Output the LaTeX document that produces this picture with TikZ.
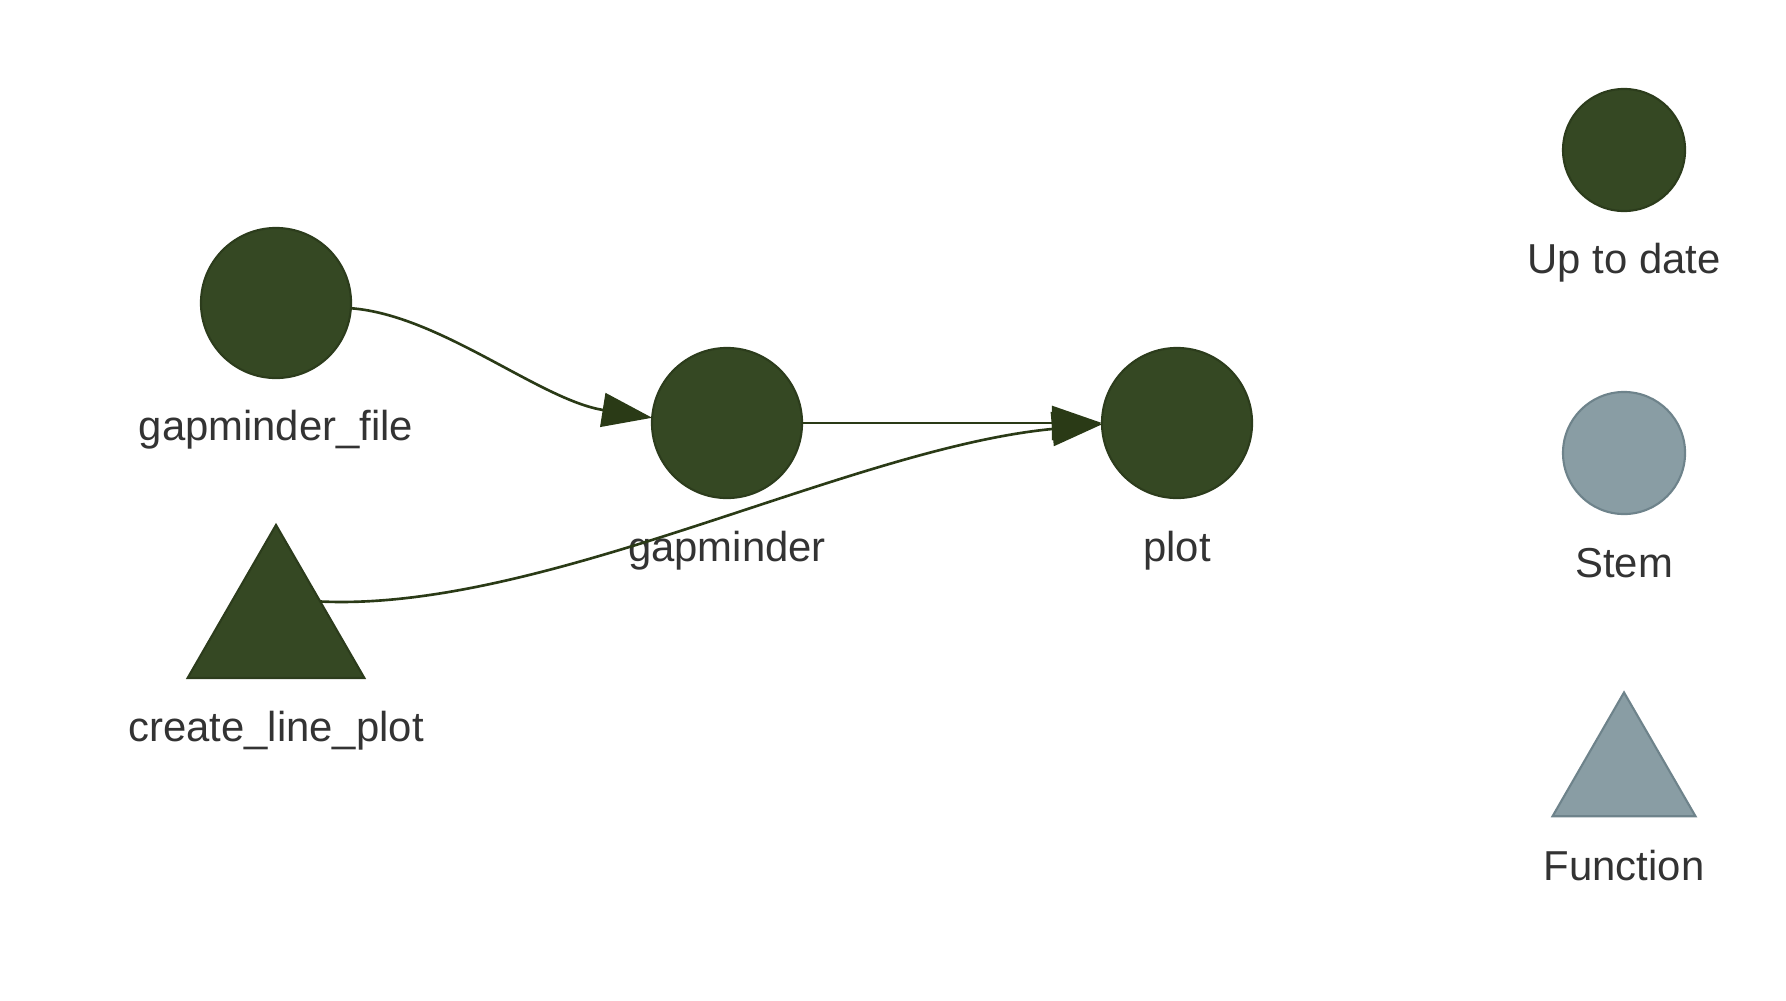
\documentclass[tikz,border=0pt]{standalone}
\usepackage{fontspec}
\setmainfont{Liberation Sans}
\usetikzlibrary{shapes.geometric,arrows.meta}
\definecolor{uptodate}{HTML}{354823}
\definecolor{uptodateline}{HTML}{2C3C1C}
\definecolor{stem}{HTML}{899DA4}
\definecolor{stemline}{HTML}{6E838B}
\definecolor{edgecol}{HTML}{2A3A16}
\definecolor{txt}{HTML}{333333}
\begin{document}
\begin{tikzpicture}[x=0.01cm,y=-0.01cm,
 target/.style={circle,fill=uptodate,draw=uptodateline,line width=0.6pt,minimum size=1.5cm,inner sep=0pt,outer sep=0pt},
 func/.style={regular polygon,regular polygon sides=3,fill=uptodate,draw=uptodateline,line width=0.6pt,minimum size=2.04cm,inner sep=0pt,outer sep=0pt},
 legcirc/.style={circle,draw=#1line,fill=#1,line width=0.6pt,minimum size=1.22cm,inner sep=0pt,outer sep=0pt},
 legtri/.style={regular polygon,regular polygon sides=3,fill=stem,draw=stemline,line width=0.6pt,minimum size=1.65cm,inner sep=0pt,outer sep=0pt},
 lbl/.style={anchor=base,text=txt,font=\fontsize{11.9}{14}\selectfont,inner sep=0pt},
 edge/.style={draw=edgecol,line width=0.75pt,-{Triangle[length=0.5cm,width=0.34cm]}},
]
\useasboundingbox (0,0) rectangle (1786,1000);
% nodes
\node[target] (gf) at (276,303) {};
\node[target] (gm) at (727,423) {};
\node[target] (pl) at (1177,423) {};
\node[func] (clp) at (276,627) {};
% labels
\node[lbl] (gfl) at (276,440) {gapminder\_file};
\node[lbl] (clpl) at (276,741) {create\_line\_plot};
\node[lbl] (gml) at (727,561) {gapminder};
\node[lbl] (pll) at (1177,561) {plot};
% edges
\draw[edge] (gf.-4) .. controls (440,315) and (540,400) .. (gm.176);
\draw[edge] (gm.east) -- (pl.west);
\draw[edge] (clp.30) .. controls (545,612) and (850,448) .. (pl.181);
% legend
\node[legcirc=uptodate] (lu) at (1624,150) {};
\node[lbl] (lul) at (1624,273) {Up to date};
\node[legcirc=stem] (ls) at (1624,453) {};
\node[lbl] (lsl) at (1624,577) {Stem};
\node[legtri] (lf) at (1624,775) {};
\node[lbl] (lfl) at (1624,880) {Function};
\end{tikzpicture}
\end{document}
